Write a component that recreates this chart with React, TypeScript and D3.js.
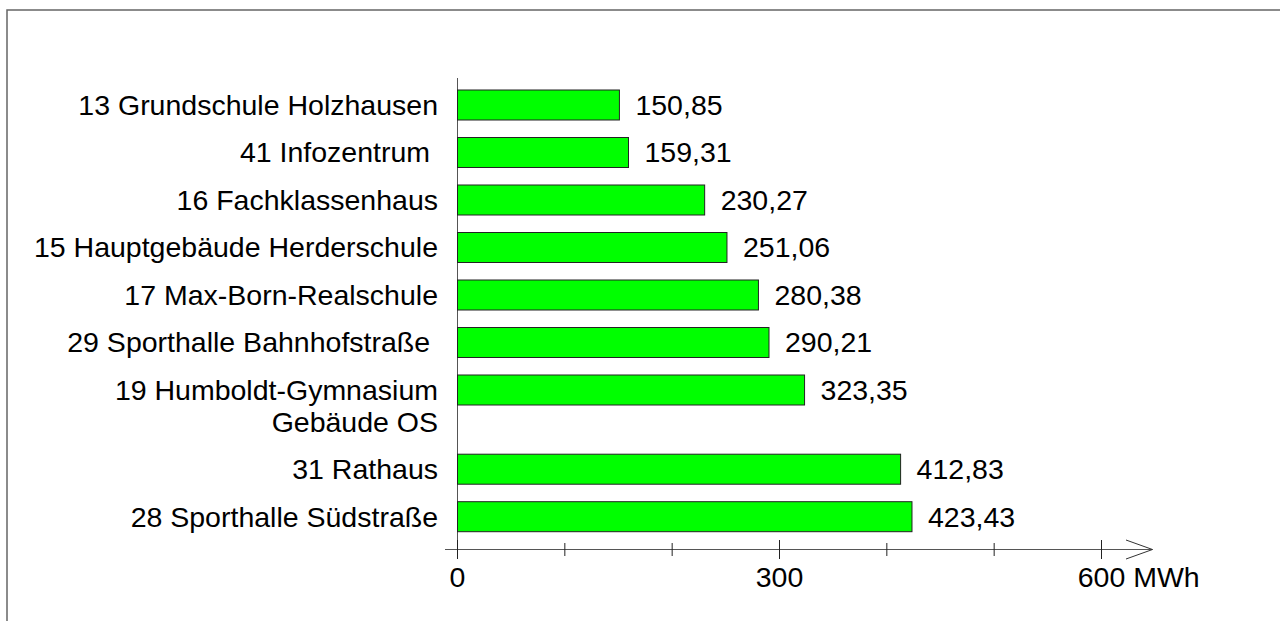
import React from "react";
import * as d3 from "d3";

// Energy use per building (MWh)
const labels = [
  "13 Grundschule Holzhausen",
  "41 Infozentrum ",
  "16 Fachklassenhaus",
  "15 Hauptgebäude Herderschule",
  "17 Max-Born-Realschule",
  "29 Sporthalle Bahnhofstraße ",
  "19 Humboldt-Gymnasium\nGebäude OS",
  "31 Rathaus",
  "28 Sporthalle Südstraße",
];
const values = [150.85, 159.31, 230.27, 251.06, 280.38, 290.21, 323.35, 412.83, 423.43];
const ticks = [0, 100, 200, 300, 400, 500, 600];
const tickLabels = ["0", "", "", "300", "", "", "600"];
const unit = "MWh";

const W = 1280;
const H = 621;
const FONT = "'Liberation Sans', Arial, sans-serif";
const fontSize = 28.5;
const lineGap = 31.7;
const pitch = 47.5;
const barH = 30;
const axisY = 549.5;

const de = d3.formatLocale({ decimal: ",", thousands: ".", grouping: [3], currency: ["", " €"] });
const fmt = de.format(".2f");

export default function App() {
  const x = d3.scaleLinear().domain([0, 600]).range([457.5, 1101.5]);

  // rows with a second label line take up extra room
  const lines = labels.map(l => l.split("\n"));
  const rowUnits = lines.map(ls => 1 + (ls.length - 1) * (lineGap / pitch));
  const starts = [0, ...Array.from(d3.cumsum(rowUnits)).slice(0, -1)];
  const y = d3.scaleLinear().domain([0, 1]).range([90, 90 + pitch]);

  const x0 = x(0);
  const xEnd = 1152.5;

  return (
    <svg
      width={W}
      height={H}
      style={{ position: "absolute", left: 0, top: 0, background: "#fff" }}
      fontFamily={FONT}
    >
      <rect x={7} y={10} width={1400} height={800} fill="none" stroke="#666" strokeWidth={1.5} />

      {/* vertical axis */}
      <line x1={x0} x2={x0} y1={78} y2={axisY} stroke="#555" strokeWidth={1} />

      {labels.map((_, i) => {
        const top = y(starts[i]);
        const cy = top + barH / 2;
        return (
          <g key={i}>
            <rect
              x={x0}
              y={top}
              width={x(values[i]) - x0}
              height={barH}
              fill="#00ff00"
              stroke="#222"
              strokeWidth={1}
            />
            <text
              x={438}
              y={cy}
              textAnchor="end"
              fontSize={fontSize}
              fill="#000"
              style={{ whiteSpace: "pre" }}
            >
              {lines[i].map((ln, j) => (
                <tspan key={j} x={438} dy={j === 0 ? "0.35em" : lineGap}>
                  {ln}
                </tspan>
              ))}
            </text>
            <text x={x(values[i]) + 16} y={cy} dy="0.35em" fontSize={fontSize} fill="#000">
              {fmt(values[i])}
            </text>
          </g>
        );
      })}

      {/* horizontal axis with arrow */}
      <line x1={445} x2={xEnd} y1={axisY} y2={axisY} stroke="#555" strokeWidth={1} />
      <polyline
        points={`${xEnd - 26.5},${axisY - 9.5} ${xEnd},${axisY} ${xEnd - 26.5},${axisY + 9.5}`}
        fill="none"
        stroke="#333"
        strokeWidth={1}
      />
      {ticks.map((t, i) => {
        const major = tickLabels[i] !== "";
        return (
          <g key={t}>
            <line
              x1={x(t)}
              x2={x(t)}
              y1={major ? axisY - 9.5 : axisY - 6.5}
              y2={major ? axisY + 9.5 : axisY + 6.5}
              stroke="#222"
              strokeWidth={1}
            />
            {major && i < ticks.length - 1 && (
              <text x={x(t)} y={587} textAnchor="middle" fontSize={fontSize} fill="#000">
                {tickLabels[i]}
              </text>
            )}
            {major && i === ticks.length - 1 && (
              <text x={x(t)} y={587} dx="-0.834em" fontSize={fontSize} fill="#000">
                {tickLabels[i] + " " + unit}
              </text>
            )}
          </g>
        );
      })}
    </svg>
  );
}
